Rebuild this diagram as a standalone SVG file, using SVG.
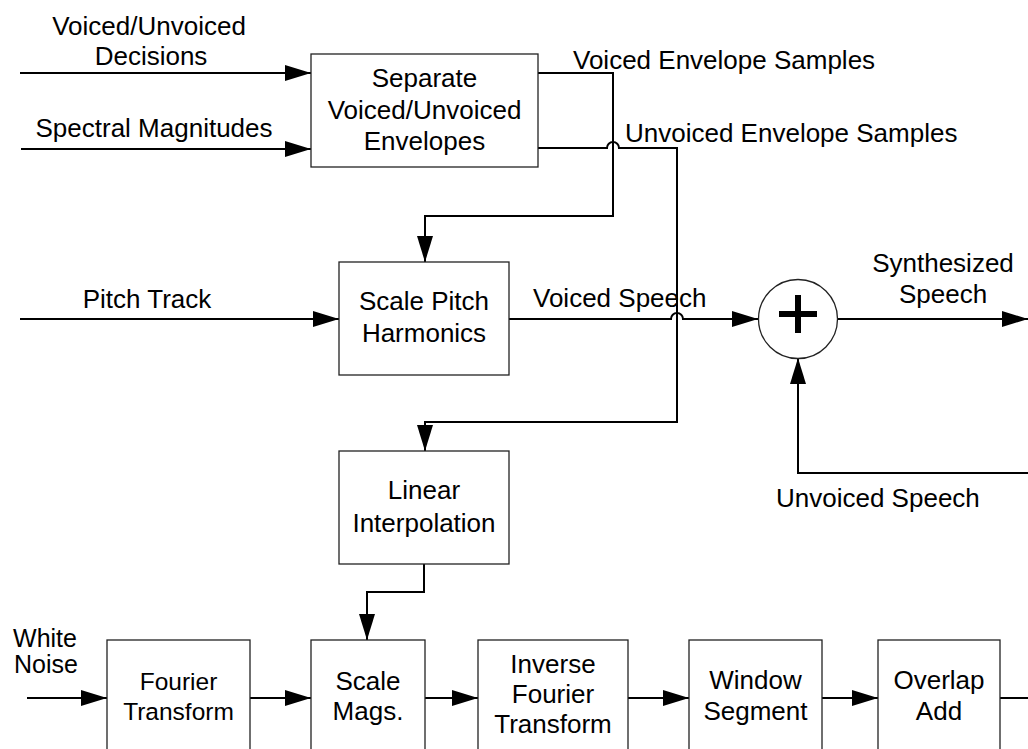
<svg xmlns="http://www.w3.org/2000/svg" width="1028" height="749" viewBox="0 0 1028 749">
<style>
  text { font-family: "Liberation Sans", Arial, sans-serif; font-size: 26px; fill: #000; }
  .c { text-anchor: middle; }
  .box { fill: #fff; stroke: #222; stroke-width: 1.3; }
  .wire { fill: none; stroke: #000; stroke-width: 2; }
  .arr { marker-end: url(#ah); }
</style>
<defs>
  <marker id="ah" viewBox="0 0 26 16" refX="26" refY="8" markerWidth="26" markerHeight="16" markerUnits="userSpaceOnUse" orient="auto">
    <path d="M0,0 L26,8 L0,16 z" fill="#000"/>
  </marker>
</defs>
<rect width="1028" height="749" fill="#fff"/>

<g id="connectors">
  <path class="wire arr" d="M20,73 H311"/>
  <path class="wire arr" d="M21,149 H311"/>
  <path class="wire arr" d="M538,73 H613 V216 H425 V262"/>
  <path class="wire arr" d="M538,148 H607 A6,6 0 0 1 619,148 H677 V422 H425 V451"/>
  <path class="wire arr" d="M20,319 H339"/>
  <path class="wire arr" d="M509,319 H671 A6,6 0 0 1 683,319 H758"/>
  <path class="wire arr" d="M838,319 H1028"/>
  <path class="wire arr" d="M1028,473 H798 V358"/>
  <path class="wire arr" d="M424,564 V592 H367 V640"/>
  <path class="wire arr" d="M27,698 H107"/>
  <path class="wire arr" d="M250,698 H311"/>
  <path class="wire arr" d="M425,698 H478"/>
  <path class="wire arr" d="M628,698 H689"/>
  <path class="wire arr" d="M822,698 H878"/>
  <path class="wire" d="M1000,698 H1028"/>
</g>

<g id="labels">
  <text class="c" x="149" y="35">Voiced/Unvoiced</text>
  <text class="c" x="151" y="65">Decisions</text>
  <text class="c" x="154" y="137">Spectral Magnitudes</text>
  <text class="c" x="147" y="308">Pitch Track</text>
  <text x="573" y="69">Voiced Envelope Samples</text>
  <text x="625" y="142">Unvoiced Envelope Samples</text>
  <text x="533" y="307">Voiced Speech</text>
  <text class="c" x="943" y="272">Synthesized</text>
  <text class="c" x="943" y="303">Speech</text>
  <text x="776" y="507">Unvoiced Speech</text>
  <text class="c" x="45" y="647" style="font-size:25px">White</text>
  <text class="c" x="46" y="673" style="font-size:25px">Noise</text>
</g>

<g id="separate">
  <rect class="box" x="311" y="54" width="227" height="113"/>
  <text class="c" x="424.5" y="87">Separate</text>
  <text class="c" x="424.5" y="119">Voiced/Unvoiced</text>
  <text class="c" x="424.5" y="150">Envelopes</text>
</g>

<g id="scalePitch">
  <rect class="box" x="339" y="262" width="170" height="113"/>
  <text class="c" x="424" y="310">Scale Pitch</text>
  <text class="c" x="424" y="342">Harmonics</text>
</g>

<g id="linearInterp">
  <rect class="box" x="339" y="451" width="170" height="113"/>
  <text class="c" x="424" y="499">Linear</text>
  <text class="c" x="424" y="532">Interpolation</text>
</g>

<g id="sum">
  <circle cx="798" cy="319" r="39.5" fill="#fff" stroke="#222" stroke-width="1.3"/>
  <path d="M779,314 H817 M798,295 V333" stroke="#000" stroke-width="6" fill="none"/>
</g>

<g id="fourier">
  <rect class="box" x="107" y="640" width="143" height="120"/>
  <text class="c" x="178.5" y="690" style="font-size:24.5px">Fourier</text>
  <text class="c" x="178.5" y="720" style="font-size:24.5px">Transform</text>
</g>

<g id="scaleMags">
  <rect class="box" x="311" y="640" width="114" height="120"/>
  <text class="c" x="368" y="690">Scale</text>
  <text class="c" x="368" y="720">Mags.</text>
</g>

<g id="ifft">
  <rect class="box" x="478" y="640" width="150" height="120"/>
  <text class="c" x="553" y="673">Inverse</text>
  <text class="c" x="553" y="703">Fourier</text>
  <text class="c" x="553" y="733">Transform</text>
</g>

<g id="window">
  <rect class="box" x="689" y="640" width="133" height="120"/>
  <text class="c" x="755.5" y="689">Window</text>
  <text class="c" x="755.5" y="720">Segment</text>
</g>

<g id="overlap">
  <rect class="box" x="878" y="640" width="122" height="120"/>
  <text class="c" x="939" y="689">Overlap</text>
  <text class="c" x="939" y="720">Add</text>
</g>
</svg>
